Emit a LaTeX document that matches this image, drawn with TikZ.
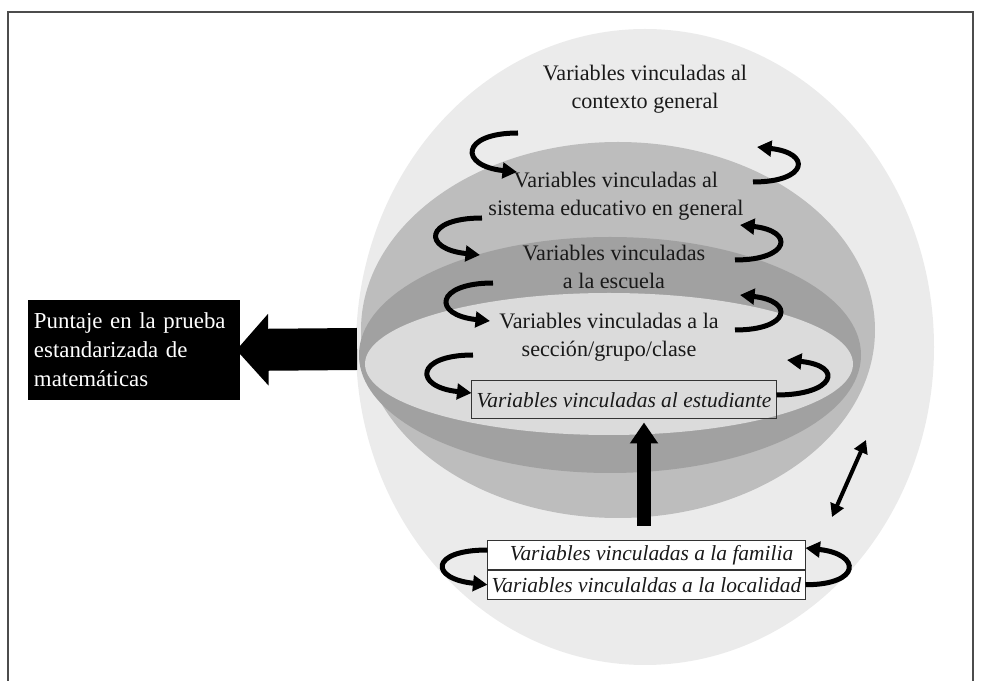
\documentclass[tikz,border=0pt]{standalone}
\usepackage{fontspec}
\setmainfont{Liberation Serif}
\usetikzlibrary{arrows.meta}

\begin{document}
\begin{tikzpicture}[x=0.2mm, y=-0.2mm,
	capa/.style={align=center, text=black!90, font=\fontsize{12.6}{15.9}\selectfont},
	caja/.style={draw=black!80, line width=0.2mm, inner sep=0pt, text=black!90, font=\fontsize{12.2}{14}\selectfont\itshape},
	giro/.style={line width=1mm, -{Triangle[length=2.9mm,width=3.1mm]}}]
	\useasboundingbox (0,0) rectangle (982,681);
	\draw[black!70, line width=0.3mm] (8,681) -- (8,12) -- (973,12) -- (973,681);

	\fill[black!8] (645,347) ellipse [x radius=289, y radius=318];
	\fill[black!26] (618,330) ellipse [x radius=257, y radius=188];
	\fill[black!37] (610,355) ellipse [x radius=251, y radius=118];
	\fill[black!14] (609,364) ellipse [x radius=244, y radius=71];

	\node[capa] (contexto) at (645,89) {Variables vinculadas al\\contexto general};
	\node[capa] (sistema) at (616,196) {Variables vinculadas al\\sistema educativo en general};
	\node[capa] (escuela) at (614,267) {Variables vinculadas\\a la escuela};
	\node[capa] (seccion) at (609,337) {Variables vinculadas a la\\sección/grupo/clase};
	\node[caja, minimum width=60.8mm, minimum height=7.6mm] (estudiante) at (624,400) {Variables vinculadas al estudiante};
	\node[caja, fill=white, minimum width=63.4mm, minimum height=5.7mm] (familia) at (646.5,555) {\hspace*{2mm}Variables vinculadas a la familia};
	\node[caja, fill=white, minimum width=63.4mm, minimum height=5.8mm, anchor=north] (localidad) at (familia.south) {Variables vinculaldas a la localidad};
	\node[fill=black, text=white, text width=40mm, inner xsep=1.2mm, minimum height=20mm, align=left, font=\fontsize{13}{16.5}\selectfont] (puntaje) at (134,350) {Puntaje en la prueba\\estandarizada de\\matemáticas};

	\coordinate (borde) at (357,349);
	\coordinate (base) at (644,526);
	\coordinate (d1) at (866,440);
	\coordinate (d2) at (832,517);

	\draw[line width=8.4mm, -{Triangle[length=6.4mm,width=14mm]}, shorten >=-0.8mm] (borde) -- (puntaje.east);
	\draw[line width=2.8mm, -{Triangle[length=4.2mm,width=5.4mm]}, shorten >=0.6mm] (base) -- (base |- estudiante.south);
	\draw[line width=0.8mm, {Triangle[length=2.6mm,width=2.8mm]}-{Triangle[length=2.6mm,width=2.8mm]}] (d2) -- (d1);

	\foreach \xa/\ya/\xb/\yb in {518/133/517/172, 482/218/480/255, 493/283/490/321}
		\draw[giro] (\xa,\ya) .. controls +(-58,0) and +(-58,-6) .. (\xb,\yb);
	\foreach \xa/\ya/\xb/\yb in {753/182/757/147, 735/260/740/225, 735/330/740/295}
		\draw[giro] (\xa,\ya) .. controls +(55,0) and +(55,6) .. (\xb,\yb);
	\draw[giro] (473,355) .. controls +(-58,0) and +(-58,-6) .. ([yshift=1.4mm]estudiante.west);
	\draw[giro] ([yshift=1mm]estudiante.east) .. controls +(58,0) and +(58,6) .. (787,360);
	\draw[giro] ([yshift=1mm]familia.west) .. controls +(-58,0) and +(-58,-6) .. (localidad.west);
	\draw[giro] (localidad.east) .. controls +(56,0) and +(56,6) .. ([yshift=1.4mm]familia.east);
\end{tikzpicture}
\end{document}
